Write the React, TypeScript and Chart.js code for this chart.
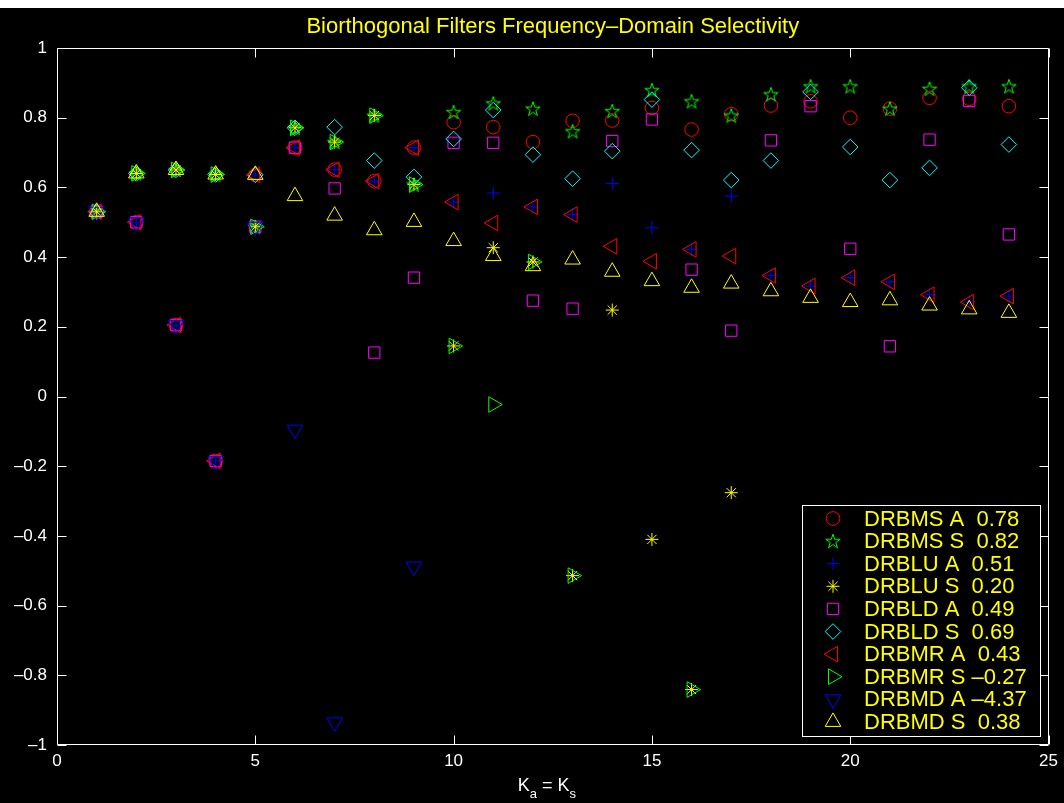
import React, { useEffect, useRef } from 'react';
import { Chart, registerables } from 'chart.js';
import { drawPoint } from 'chart.js/helpers';

Chart.register(...registerables);

// ---------------- data ----------------
const kValues = [1, 2, 3, 4, 5, 6, 7, 8, 9, 10, 11, 12, 13, 14, 15, 16, 17, 18, 19, 20, 21, 22, 23, 24];

const drbmsA = [0.53, 0.50, 0.205, -0.185, 0.636, 0.714, 0.651, 0.618, 0.714, 0.787, 0.773, 0.730, 0.791, 0.792, 0.828, 0.766, 0.810, 0.835, 0.847, 0.800, 0.826, 0.857, 0.854, 0.833];
const drbmsS = [0.53, 0.64, 0.65, 0.637, 0.487, 0.771, 0.730, 0.806, 0.608, 0.816, 0.841, 0.826, 0.761, 0.819, 0.879, 0.847, 0.806, 0.867, 0.890, 0.890, 0.826, 0.883, 0.890, 0.890];
const drbluA = [0.53, 0.50, 0.205, -0.185, 0.636, 0.714, 0.651, 0.618, 0.714, 0.558, 0.584, 0.544, 0.522, 0.611, 0.484, 0.422, 0.575, 0.347, 0.317, 0.341, 0.329, 0.292, 0.271, 0.288];
const drbluS = [0.53, 0.64, 0.65, 0.637, 0.487, 0.771, 0.730, 0.806, 0.608, 0.145, 0.427, 0.386, -0.514, 0.248, -0.410, -0.841, -0.276, null, null, null, null, null, null, null];
const drbldA = [0.53, 0.50, 0.205, -0.185, 0.487, 0.714, 0.597, 0.126, 0.341, 0.728, 0.728, 0.275, 0.252, 0.733, 0.795, 0.364, 0.189, 0.735, 0.833, 0.424, 0.144, 0.737, 0.848, 0.465];
const drbldS = [0.53, 0.64, 0.65, 0.637, 0.636, 0.771, 0.773, 0.677, 0.630, 0.739, 0.822, 0.694, 0.625, 0.704, 0.852, 0.707, 0.621, 0.677, 0.874, 0.716, 0.621, 0.656, 0.886, 0.723];
const drbmrA = [0.53, 0.50, 0.205, -0.185, 0.636, 0.714, 0.651, 0.618, 0.714, 0.558, 0.498, 0.544, 0.522, 0.431, 0.388, 0.422, 0.403, 0.347, 0.317, 0.341, 0.329, 0.292, 0.271, 0.288];
const drbmrS = [0.53, 0.64, 0.65, 0.637, 0.487, 0.771, 0.730, 0.806, 0.608, 0.145, -0.023, 0.386, -0.514, null, null, -0.841, null, null, null, null, null, null, null, null];
const drbmdA = [0.53, 0.50, 0.205, -0.185, 0.487, -0.095, -0.935, null, -0.488, null, null, null, null, null, null, null, null, null, null, null, null, null, null, null];
const drbmdS = [0.53, 0.64, 0.65, 0.637, 0.636, 0.575, 0.519, 0.477, 0.501, 0.446, 0.403, 0.374, 0.393, 0.358, 0.331, 0.312, 0.324, 0.302, 0.283, 0.271, 0.276, 0.261, 0.250, 0.240];

const seriesNames = ['DRBMS A', 'DRBMS S', 'DRBLU A', 'DRBLU S', 'DRBLD A', 'DRBLD S', 'DRBMR A', 'DRBMR S', 'DRBMD A', 'DRBMD S'];
const seriesScores = ['0.78', '0.82', '0.51', '0.20', '0.49', '0.69', '0.43', '\u20130.27', '\u20134.37', '0.38'];
const seriesValues = [drbmsA, drbmsS, drbluA, drbluS, drbldA, drbldS, drbmrA, drbmrS, drbmdA, drbmdS];

const xTickValues = [0, 5, 10, 15, 20, 25];
const yTickValues = [-1, -0.8, -0.6, -0.4, -0.2, 0, 0.2, 0.4, 0.6, 0.8, 1];

const titleText = 'Biorthogonal Filters Frequency\u2013Domain Selectivity';

// ---------------- styles ----------------
const FONT = '"Liberation Sans", Arial, Helvetica, sans-serif';

function makePentagram(color: string) {
  const c = document.createElement('canvas');
  c.width = 20;
  c.height = 20;
  const g = c.getContext('2d')!;
  const R = 7.6;
  const r = R * 0.382;
  g.strokeStyle = color;
  g.lineWidth = 1;
  g.beginPath();
  for (let i = 0; i < 10; i++) {
    const rad = i % 2 === 0 ? R : r;
    const a = -Math.PI / 2 + (i * Math.PI) / 5;
    const px = 10 + rad * Math.cos(a);
    const py = 10.6 + rad * Math.sin(a);
    if (i === 0) g.moveTo(px, py);
    else g.lineTo(px, py);
  }
  g.closePath();
  g.stroke();
  return c;
}

type MarkerStyle = { color: string; style: any; rotation: number; radius: number };

function buildMarkerStyles(): MarkerStyle[] {
  return [
    { color: '#ff0000', style: 'circle', rotation: 0, radius: 6.8 },
    { color: '#00ff00', style: makePentagram('#00ff00'), rotation: 0, radius: 8 },
    { color: '#0000ff', style: 'cross', rotation: 0, radius: 6.5 },
    { color: '#ffff00', style: 'star', rotation: 0, radius: 6.5 },
    { color: '#ff00ff', style: 'rect', rotation: 0, radius: 8 },
    { color: '#00ffff', style: 'rectRot', rotation: 0, radius: 7.8 },
    { color: '#ff0000', style: 'triangle', rotation: -90, radius: 9 },
    { color: '#00ff00', style: 'triangle', rotation: 90, radius: 9 },
    { color: '#0000ff', style: 'triangle', rotation: 180, radius: 9 },
    { color: '#ffff00', style: 'triangle', rotation: 0, radius: 9 },
  ];
}

function fmtTick(v: number) {
  const r = Math.round(v * 10) / 10;
  if (r === 0) return '0';
  const s = String(Math.abs(r));
  return r < 0 ? '\u2013' + s : s;
}

export default function App() {
  const canvasRef = useRef<HTMLCanvasElement | null>(null);

  useEffect(() => {
    document.body.style.margin = '0';
    const canvas = canvasRef.current;
    if (!canvas) return;
    const markers = buildMarkerStyles();

    const datasets = seriesValues.map((vals, i) => ({
      label: seriesNames[i],
      data: kValues
        .map((k, j) => ({ x: k, y: vals[j] }))
        .filter((p) => p.y !== null && p.y !== undefined),
      showLine: false,
      pointStyle: markers[i].style,
      rotation: markers[i].rotation,
      pointRotation: markers[i].rotation,
      pointRadius: markers[i].radius,
      pointHoverRadius: markers[i].radius,
      borderColor: markers[i].color,
      pointBorderColor: markers[i].color,
      backgroundColor: 'rgba(0,0,0,0)',
      pointBackgroundColor: 'rgba(0,0,0,0)',
      borderWidth: 1,
      pointBorderWidth: 1,
      order: seriesValues.length - i,
    }));

    const framePlugin = {
      id: 'matlabFrame',
      afterDatasetsDraw(chart: any) {
        const { ctx, chartArea: a, scales } = chart;
        ctx.save();
        ctx.strokeStyle = '#ffffff';
        ctx.lineWidth = 1;
        const L = Math.round(a.left) + 0.5;
        const R = Math.round(a.right) - 0.5;
        const T = Math.round(a.top) + 0.5;
        const B = Math.round(a.bottom) - 0.5;
        ctx.beginPath();
        ctx.rect(L, T, R - L, B - T);
        const tl = 9;
        xTickValues.forEach((v) => {
          const px = Math.round(scales.x.getPixelForValue(v)) + 0.5;
          ctx.moveTo(px, B);
          ctx.lineTo(px, B - tl);
          ctx.moveTo(px, T);
          ctx.lineTo(px, T + tl);
        });
        yTickValues.forEach((v) => {
          const py = Math.round(scales.y.getPixelForValue(v)) + 0.5;
          ctx.moveTo(L, py);
          ctx.lineTo(L + tl, py);
          ctx.moveTo(R, py);
          ctx.lineTo(R - tl, py);
        });
        ctx.stroke();
        ctx.restore();
      },
      afterDraw(chart: any) {
        const { ctx, chartArea: a } = chart;
        ctx.save();
        // title
        ctx.fillStyle = '#ffff00';
        ctx.font = `22px ${FONT}`;
        ctx.textAlign = 'center';
        ctx.textBaseline = 'middle';
        ctx.fillText(titleText, (a.left + a.right) / 2, 19);

        // x-axis label: K_a = K_s
        ctx.fillStyle = '#ffffff';
        ctx.textAlign = 'left';
        ctx.textBaseline = 'alphabetic';
        const big = `18px ${FONT}`;
        const small = `13px ${FONT}`;
        const parts = [
          { t: 'K', f: big, dy: 0 },
          { t: 'a', f: small, dy: 7 },
          { t: ' = K', f: big, dy: 0 },
          { t: 's', f: small, dy: 7 },
        ];
        let total = 0;
        parts.forEach((p) => {
          ctx.font = p.f;
          total += ctx.measureText(p.t).width;
        });
        let cx = (a.left + a.right) / 2 - total / 2 - 6;
        const base = 783;
        parts.forEach((p) => {
          ctx.font = p.f;
          ctx.fillText(p.t, cx, base + p.dy);
          cx += ctx.measureText(p.t).width;
        });

        // legend
        const bx = 802.5, by = 497.5, bw = 238, bh = 231;
        ctx.fillStyle = '#000000';
        ctx.fillRect(bx, by, bw, bh);
        ctx.strokeStyle = '#ffffff';
        ctx.lineWidth = 1;
        ctx.strokeRect(bx, by, bw, bh);
        const rowH = 22.6;
        const y0 = 510.5;
        ctx.font = `22px ${FONT}`;
        ctx.textBaseline = 'middle';
        ctx.textAlign = 'left';
        seriesNames.forEach((name, i) => {
          const yy = y0 + i * rowH;
          const m = markers[i];
          ctx.strokeStyle = m.color;
          ctx.fillStyle = 'rgba(0,0,0,0)';
          ctx.lineWidth = 1;
          drawPoint(ctx, { pointStyle: m.style, rotation: m.rotation, radius: m.radius, borderWidth: 1 } as any, 833, yy);
          ctx.fillStyle = '#ffff00';
          const sep = seriesScores[i].startsWith('\u2013') ? ' ' : '  ';
          ctx.fillText(name + sep + seriesScores[i], 864, yy + 1);
        });
        ctx.restore();
      },
    };

    const chart = new Chart(canvas, {
      type: 'scatter',
      data: { datasets: datasets as any },
      options: {
        animation: false,
        responsive: false,
        devicePixelRatio: 1,
        events: [],
        layout: { padding: { top: 40, right: 14, left: 0, bottom: 0 } },
        plugins: {
          legend: { display: false },
          title: { display: false },
          tooltip: { enabled: false },
        },
        scales: {
          x: {
            type: 'linear',
            min: 0,
            max: 25,
            grid: { display: false, drawTicks: false },
            border: { display: false },
            ticks: {
              color: '#ffffff',
              font: { family: FONT, size: 17 },
              padding: 6,
              maxRotation: 0,
              autoSkip: false,
              callback: (v: any) => fmtTick(Number(v)),
            },
            afterBuildTicks: (s: any) => {
              s.ticks = xTickValues.map((v) => ({ value: v }));
            },
            afterFit: (s: any) => {
              s.height = 58;
            },
          },
          y: {
            type: 'linear',
            min: -1,
            max: 1,
            grid: { display: false, drawTicks: false },
            border: { display: false },
            ticks: {
              color: '#ffffff',
              font: { family: FONT, size: 17 },
              padding: 10,
              autoSkip: false,
              callback: (v: any) => fmtTick(Number(v)),
            },
            afterBuildTicks: (s: any) => {
              s.ticks = yTickValues.map((v) => ({ value: v }));
            },
            afterFit: (s: any) => {
              s.width = 57;
            },
          },
        },
      } as any,
      plugins: [framePlugin as any],
    });

    return () => {
      chart.destroy();
    };
  }, []);

  return (
    <div style={{ width: 1064, height: 803, background: '#ffffff', paddingTop: 8, boxSizing: 'border-box' }}>
      <canvas ref={canvasRef} width={1064} height={795} style={{ display: 'block', background: '#000000' }} />
    </div>
  );
}
